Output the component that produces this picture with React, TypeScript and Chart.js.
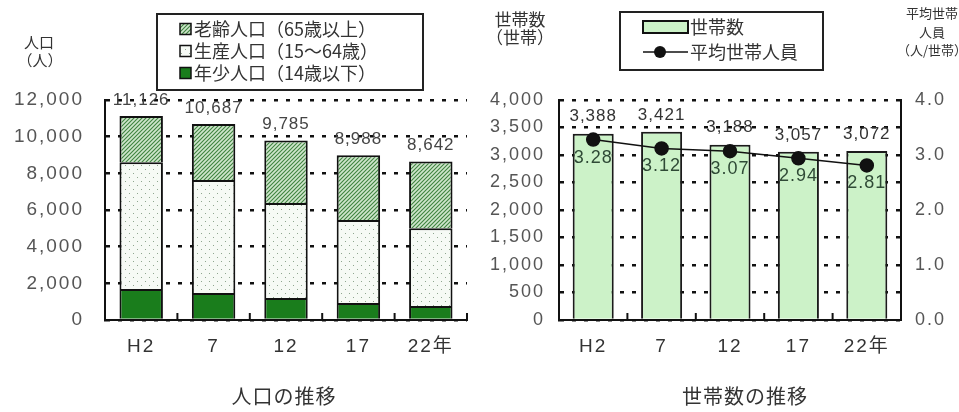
import { useEffect, useRef } from "react";
import { Chart, registerables } from "chart.js";

Chart.register(...registerables);

// ---- data ----
const years = ["H2", "7", "12", "17", "22年"];

// 人口（人）
const youngPop = [1690, 1470, 1200, 930, 760]; // 年少人口（14歳以下）
const workingPop = [6920, 6160, 5180, 4520, 4250]; // 生産人口（15～64歳）
const elderlyPop = [2516, 3057, 3405, 3538, 3632]; // 老齢人口（65歳以上）
const popTicks = [0, 2000, 4000, 6000, 8000, 10000, 12000];

// 世帯数（世帯）と平均世帯人員（人/世帯）
const households = [3388, 3421, 3188, 3057, 3072];
const avgMembers = [3.28, 3.12, 3.07, 2.94, 2.81];
const householdTicks = [0, 500, 1000, 1500, 2000, 2500, 3000, 3500, 4000];
const memberTicks = [0, 1, 2, 3, 4];

const FONT = "'Liberation Sans', 'Noto Sans CJK JP', sans-serif";
const JP = "'Noto Sans CJK JP', sans-serif";
const INK = "#111";

const fmt = (v: number) => v.toLocaleString("en-US");

function drawText(
  ctx: CanvasRenderingContext2D,
  s: string,
  x: number,
  y: number,
  font: string,
  color: string,
  align: CanvasTextAlign = "center",
  spacing = "0px"
) {
  ctx.save();
  ctx.font = font;
  ctx.fillStyle = color;
  ctx.textAlign = align;
  ctx.textBaseline = "middle";
  (ctx as any).letterSpacing = spacing;
  ctx.fillText(s, x, y);
  ctx.restore();
}

function makeHatch(): CanvasPattern {
  const c = document.createElement("canvas");
  c.width = 4;
  c.height = 4;
  const g = c.getContext("2d")!;
  g.fillStyle = "#cfe6cc";
  g.fillRect(0, 0, 4, 4);
  g.strokeStyle = "#3f833f";
  g.lineWidth = 1.1;
  g.beginPath();
  g.moveTo(0, 4);
  g.lineTo(4, 0);
  g.moveTo(-2, 2);
  g.lineTo(2, -2);
  g.moveTo(2, 6);
  g.lineTo(6, 2);
  g.stroke();
  return g.createPattern(c, "repeat")!;
}

function makeDots(): CanvasPattern {
  const c = document.createElement("canvas");
  c.width = 8;
  c.height = 8;
  const g = c.getContext("2d")!;
  g.fillStyle = "#f6faf5";
  g.fillRect(0, 0, 8, 8);
  g.fillStyle = "#8fa68f";
  g.fillRect(1, 1, 1, 1);
  g.fillRect(5, 5, 1, 1);
  return g.createPattern(c, "repeat")!;
}

// tick labels are drawn with a little tracking
const tracking = {
  id: "tracking",
  beforeDraw(chart: Chart) {
    (chart.ctx as any).letterSpacing = "2px";
  },
  afterDraw(chart: Chart) {
    (chart.ctx as any).letterSpacing = "0px";
  },
};

// short upward ticks on the category axis, between categories
function drawInnerTicks(chart: Chart) {
  const { ctx } = chart;
  const x: any = chart.scales.x;
  const bottom = chart.chartArea.bottom;
  const step = x.getPixelForValue(1) - x.getPixelForValue(0);
  ctx.save();
  ctx.strokeStyle = INK;
  ctx.lineWidth = 2;
  years.forEach((_, i) => {
    const bx = x.getPixelForValue(i) + step / 2;
    ctx.beginPath();
    ctx.moveTo(bx, bottom);
    ctx.lineTo(bx, bottom - 7);
    ctx.stroke();
  });
  ctx.restore();
}

function PopulationChart() {
  const ref = useRef<HTMLCanvasElement>(null);
  useEffect(() => {
    const hatch = makeHatch();
    const dots = makeDots();

    const decor = {
      id: "popDecor",
      afterDatasetsDraw(chart: Chart) {
        drawInnerTicks(chart);
        const x: any = chart.scales.x;
        const y: any = chart.scales.y;
        years.forEach((_, i) => {
          const total = youngPop[i] + workingPop[i] + elderlyPop[i];
          drawText(chart.ctx, fmt(total), x.getPixelForValue(i), y.getPixelForValue(total) - 16, `17px ${FONT}`, "#444", "center", "1px");
        });
      },
      afterDraw(chart: Chart) {
        const ctx = chart.ctx;
        // unit
        drawText(ctx, "人口", 39, 42, `15px ${JP}`, "#333");
        drawText(ctx, "（人）", 40, 60, `15px ${JP}`, "#333");
        // legend box
        ctx.save();
        ctx.strokeStyle = "#222";
        ctx.lineWidth = 2;
        ctx.strokeRect(157, 14, 266, 76);
        const items: [string, string | CanvasPattern][] = [
          ["老齢人口（65歳以上）", hatch],
          ["生産人口（15～64歳）", dots],
          ["年少人口（14歳以下）", "#1a7d1c"],
        ];
        items.forEach(([label, fill], k) => {
          const cy = 29 + k * 22;
          ctx.fillStyle = fill as any;
          ctx.fillRect(180, cy - 5.5, 11, 11);
          ctx.strokeStyle = INK;
          ctx.lineWidth = 1.5;
          ctx.strokeRect(180, cy - 5.5, 11, 11);
          drawText(ctx, label, 194, cy, `18px ${JP}`, "#333", "left");
        });
        ctx.restore();
        // caption
        drawText(ctx, "人口の推移", 284, 396, `20px ${JP}`, "#333", "center", "1px");
      },
    };

    const chart = new Chart(ref.current!, {
      type: "bar",
      data: {
        labels: years,
        datasets: [
          { label: "年少人口（14歳以下）", data: youngPop, backgroundColor: "#1a7d1c", borderColor: INK, borderWidth: 2, stack: "pop" },
          { label: "生産人口（15～64歳）", data: workingPop, backgroundColor: dots as any, borderColor: INK, borderWidth: 2, stack: "pop" },
          { label: "老齢人口（65歳以上）", data: elderlyPop, backgroundColor: hatch as any, borderColor: INK, borderWidth: 2, stack: "pop" },
        ],
      },
      options: {
        animation: false,
        responsive: false,
        maintainAspectRatio: false,
        devicePixelRatio: 1,
        layout: { padding: { left: 0, right: 13, top: 100, bottom: 52 } },
        plugins: { legend: { display: false }, tooltip: { enabled: false }, title: { display: false } },
        datasets: { bar: { categoryPercentage: 1, barPercentage: 0.6 } },
        scales: {
          x: {
            stacked: true,
            grid: { drawOnChartArea: false, drawTicks: false },
            border: { color: INK, width: 2 },
            ticks: { color: "#333", font: { family: FONT, size: 19 }, padding: 15 },
            afterFit: (s: any) => {
              s.height = 40;
            },
          },
          y: {
            stacked: true,
            min: 0,
            max: 12000,
            afterBuildTicks: (s: any) => {
              s.ticks = popTicks.map((v) => ({ value: v }));
            },
            ticks: { color: "#555", font: { family: FONT, size: 19 }, padding: 21, callback: (v: any) => fmt(Number(v)) },
            grid: { color: INK, lineWidth: 2.5, drawTicks: false },
            border: { color: INK, width: 2, dash: [4, 8] },
            afterFit: (s: any) => {
              s.width = 105;
            },
          },
        },
      },
      plugins: [tracking, decor],
    });
    return () => chart.destroy();
  }, []);
  return <canvas ref={ref} width={480} height={412} style={{ position: "absolute", left: 0, top: 0, width: 480, height: 412 }} />;
}

function HouseholdChart() {
  const ref = useRef<HTMLCanvasElement>(null);
  useEffect(() => {
    const decor = {
      id: "hhDecor",
      afterDatasetsDraw(chart: Chart) {
        drawInnerTicks(chart);
        const x: any = chart.scales.x;
        const y: any = chart.scales.y;
        const y1: any = chart.scales.y1;
        years.forEach((_, i) => {
          const cx = x.getPixelForValue(i);
          drawText(chart.ctx, fmt(households[i]), cx, y.getPixelForValue(households[i]) - 17, `17px ${FONT}`, "#333", "center", "1px");
          drawText(chart.ctx, avgMembers[i].toFixed(2), cx, y1.getPixelForValue(avgMembers[i]) + 18, `18px ${FONT}`, "#2f4a36", "center", "1px");
        });
      },
      afterDraw(chart: Chart) {
        const ctx = chart.ctx;
        // units
        drawText(ctx, "世帯数", 40, 20, `17px ${JP}`, "#333");
        drawText(ctx, "（世帯）", 40, 38, `17px ${JP}`, "#333");
        drawText(ctx, "平均世帯", 452, 13, `13px ${JP}`, "#333");
        drawText(ctx, "人員", 452, 32, `13px ${JP}`, "#333");
        drawText(ctx, "（人/世帯）", 452, 50, `13px ${JP}`, "#333");
        // legend box
        ctx.save();
        ctx.strokeStyle = "#222";
        ctx.lineWidth = 2;
        ctx.strokeRect(140, 12, 203, 58);
        ctx.fillStyle = "#ccf2c8";
        ctx.fillRect(163, 21, 45, 12);
        ctx.strokeStyle = INK;
        ctx.lineWidth = 2;
        ctx.strokeRect(163, 21, 45, 12);
        drawText(ctx, "世帯数", 210, 27, `18px ${JP}`, "#333", "left");
        ctx.beginPath();
        ctx.lineWidth = 1.5;
        ctx.moveTo(163, 52);
        ctx.lineTo(208, 52);
        ctx.stroke();
        ctx.beginPath();
        ctx.fillStyle = INK;
        ctx.arc(180, 52, 6, 0, Math.PI * 2);
        ctx.fill();
        drawText(ctx, "平均世帯人員", 210, 52, `18px ${JP}`, "#333", "left");
        ctx.restore();
        // caption
        drawText(ctx, "世帯数の推移", 265, 396, `20px ${JP}`, "#333", "center", "1px");
      },
    };

    const chart = new Chart(ref.current!, {
      type: "bar",
      data: {
        labels: years,
        datasets: [
          {
            type: "line",
            label: "平均世帯人員",
            data: avgMembers,
            yAxisID: "y1",
            borderColor: INK,
            borderWidth: 1.5,
            pointRadius: 6.5,
            pointBackgroundColor: INK,
            pointBorderColor: INK,
            order: 0,
          } as any,
          {
            type: "bar",
            label: "世帯数",
            data: households,
            yAxisID: "y",
            backgroundColor: "#ccf2c8",
            borderColor: "#1b1b1b",
            borderWidth: 2,
            order: 1,
          },
        ],
      },
      options: {
        animation: false,
        responsive: false,
        maintainAspectRatio: false,
        devicePixelRatio: 1,
        layout: { padding: { left: 0, right: 0, top: 100, bottom: 52 } },
        plugins: { legend: { display: false }, tooltip: { enabled: false }, title: { display: false } },
        datasets: { bar: { categoryPercentage: 1, barPercentage: 0.6 } },
        scales: {
          x: {
            grid: { drawOnChartArea: false, drawTicks: false },
            border: { color: INK, width: 2 },
            ticks: { color: "#333", font: { family: FONT, size: 19 }, padding: 15 },
            afterFit: (s: any) => {
              s.height = 40;
            },
          },
          y: {
            position: "left",
            min: 0,
            max: 4000,
            afterBuildTicks: (s: any) => {
              s.ticks = householdTicks.map((v) => ({ value: v }));
            },
            ticks: { color: "#555", font: { family: FONT, size: 18 }, padding: 14, callback: (v: any) => fmt(Number(v)) },
            grid: { color: INK, lineWidth: 2.5, drawTicks: false },
            border: { color: INK, width: 2, dash: [4, 8] },
            afterFit: (s: any) => {
              s.width = 79;
            },
          },
          y1: {
            position: "right",
            min: 0,
            max: 4,
            afterBuildTicks: (s: any) => {
              s.ticks = memberTicks.map((v) => ({ value: v }));
            },
            ticks: { color: "#555", font: { family: FONT, size: 18 }, padding: 14, callback: (v: any) => Number(v).toFixed(1) },
            grid: { drawOnChartArea: false, drawTicks: false },
            border: { color: INK, width: 2 },
            afterFit: (s: any) => {
              s.width = 58;
            },
          },
        },
      },
      plugins: [tracking, decor],
    });
    return () => chart.destroy();
  }, []);
  return <canvas ref={ref} width={479} height={412} style={{ position: "absolute", left: 480, top: 0, width: 479, height: 412 }} />;
}

export default function App() {
  return (
    <div style={{ position: "absolute", left: 0, top: 0, width: 959, height: 412, background: "#fff", overflow: "hidden" }}>
      <PopulationChart />
      <HouseholdChart />
    </div>
  );
}
